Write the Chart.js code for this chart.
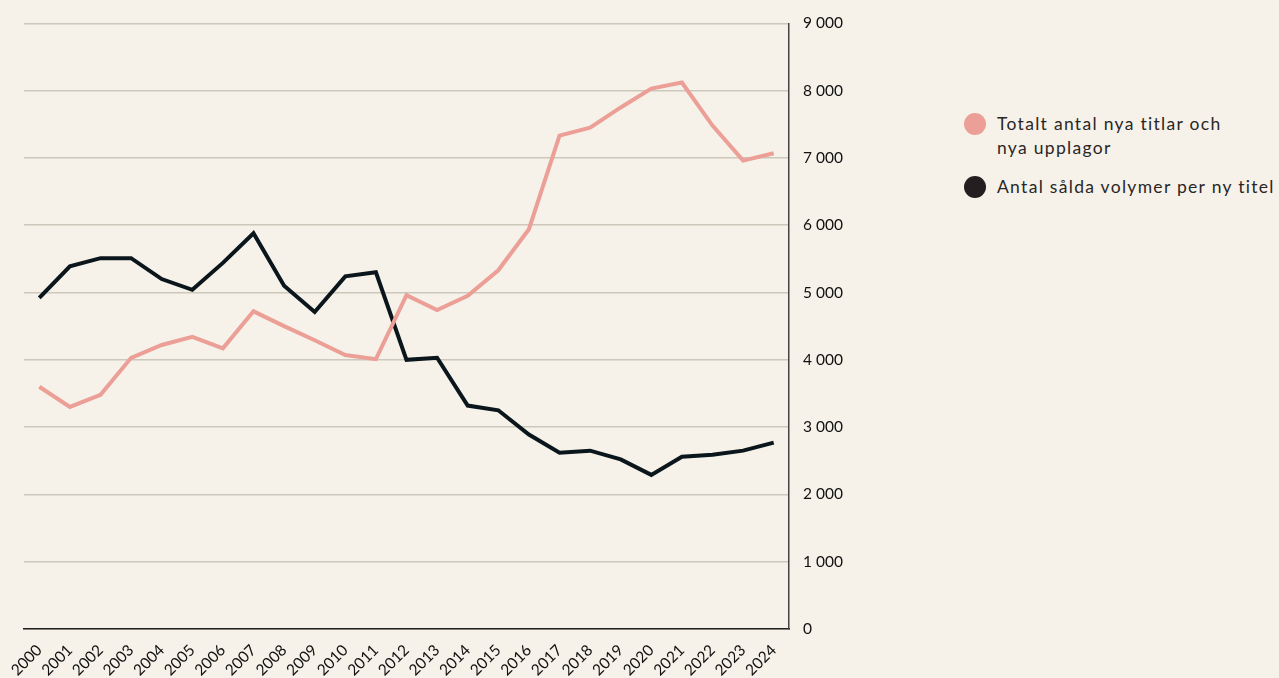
<!DOCTYPE html>
<html>
<head>
<meta charset="utf-8">
<script src="https://cdn.jsdelivr.net/npm/chart.js@4"></script>
<style>
  html, body { margin: 0; padding: 0; background: #f6f2e9; }
  body { width: 1279px; height: 678px; position: relative; overflow: hidden; font-family: Lato, "Noto Sans", sans-serif; }
  #wrap { position: absolute; left: 0; top: 0; width: 859px; height: 678px; }
  .legend { position: absolute; left: 964px; top: 112px; color: #2a2626; font-size: 17.5px; line-height: 24px; letter-spacing: 1.3px; white-space: nowrap; }
  .legend .item { display: flex; align-items: flex-start; margin-bottom: 15px; }
  .legend .dot { width: 22px; height: 22px; border-radius: 50%; margin-right: 11px; flex: none; margin-top: 1px; }
</style>
</head>
<body>
<div id="wrap"><canvas id="c"></canvas></div>
<div class="legend">
  <div class="item"><span class="dot" style="background:#eb9f96"></span><span>Totalt antal nya titlar och<br>nya upplagor</span></div>
  <div class="item"><span class="dot" style="background:#231f20"></span><span>Antal sålda volymer per ny titel</span></div>
</div>
<script>
// årtal
const years = ['2000','2001','2002','2003','2004','2005','2006','2007','2008','2009','2010','2011',
  '2012','2013','2014','2015','2016','2017','2018','2019','2020','2021','2022','2023','2024'];

// Totalt antal nya titlar och nya upplagor
const nyaTitlar = [3600, 3300, 3480, 4030, 4220, 4340, 4170, 4720, 4500, 4290, 4070, 4010,
  4960, 4740, 4950, 5330, 5940, 7330, 7450, 7750, 8030, 8120, 7480, 6960, 7070];

// Antal sålda volymer per ny titel
const saldaPerTitel = [4920, 5390, 5510, 5510, 5200, 5040, 5440, 5880, 5100, 4710, 5240, 5300,
  4000, 4030, 3320, 3250, 2890, 2620, 2650, 2520, 2290, 2560, 2590, 2650, 2770];

const yMax = 9000, yStep = 1000;

// tusentalsavgränsare med mellanslag
function fmt(v) { return String(v).replace(/\B(?=(\d{3})+(?!\d))/g, ' '); }

new Chart(document.getElementById('c'), {
  type: 'line',
  data: {
    labels: years,
    datasets: [
      { label: 'Totalt antal nya titlar och nya upplagor', data: nyaTitlar,
        borderColor: '#eb9f96', borderWidth: 4, pointRadius: 0, tension: 0 },
      { label: 'Antal sålda volymer per ny titel', data: saldaPerTitel,
        borderColor: '#0b161c', borderWidth: 4, pointRadius: 0, tension: 0 },
    ],
  },
  options: {
    responsive: true, maintainAspectRatio: false, animation: false,
    layout: { padding: { top: 11, left: 24, right: 0, bottom: 0 } },
    plugins: { legend: { display: false }, tooltip: { enabled: false } },
    scales: {
      x: {
        offset: true,
        grid: { display: false },
        border: { color: '#222', width: 1.5 },
        ticks: { color: '#111', font: { family: 'Lato', size: 15.5 }, minRotation: 45, maxRotation: 45, autoSkip: false, padding: 4 },
        afterFit: s => { s.height = 49; },
      },
      y: {
        position: 'right', min: 0, max: yMax,
        grid: { color: '#cdc8bc', lineWidth: 1.5, drawTicks: false },
        border: { color: '#444', width: 1.5 },
        ticks: { stepSize: yStep, color: '#111', font: { family: 'Lato', size: 15.5 }, padding: 14, callback: v => fmt(v) },
        afterFit: s => { s.width = 70; },
      },
    },
  },
});
</script>
</body>
</html>
